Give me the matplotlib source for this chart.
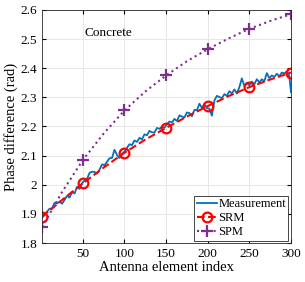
import numpy as np
import matplotlib.pyplot as plt

plt.rcParams['font.family'] = ['Liberation Serif', 'DejaVu Serif']

# measured phase difference, every 3rd element plus the last one
meas_x = list(range(1, 300, 3)) + [300]
meas_y = [1.887, 1.897, 1.908, 1.918, 1.919, 1.938, 1.936, 1.942, 1.935, 1.948,
          1.962, 1.956, 1.975, 1.970, 1.993, 1.986, 2.005, 2.015, 2.020, 2.041,
          2.045, 2.044, 2.038, 2.052, 2.070, 2.067, 2.079, 2.091, 2.092, 2.120,
          2.102, 2.092, 2.106, 2.114, 2.127, 2.139, 2.136, 2.152, 2.147, 2.161,
          2.156, 2.173, 2.170, 2.185, 2.180, 2.179, 2.195, 2.192, 2.199, 2.196,
          2.207, 2.217, 2.214, 2.226, 2.219, 2.238, 2.234, 2.231, 2.248, 2.246,
          2.235, 2.257, 2.256, 2.278, 2.264, 2.276, 2.263, 2.261, 2.237, 2.289,
          2.305, 2.301, 2.297, 2.311, 2.305, 2.321, 2.313, 2.327, 2.313, 2.335,
          2.365, 2.339, 2.350, 2.341, 2.354, 2.345, 2.362, 2.351, 2.362, 2.355,
          2.383, 2.366, 2.375, 2.370, 2.381, 2.372, 2.385, 2.382, 2.389, 2.374,
          2.318]

model_x = [1, 25, 50, 75, 100, 125, 150, 175, 200, 225, 250, 275, 300]
srm_y = [1.89, 1.948, 2.005, 2.059, 2.11, 2.155, 2.195, 2.234, 2.27, 2.304, 2.335, 2.361, 2.385]
spm_y = [1.855, 1.975, 2.085, 2.176, 2.255, 2.32, 2.375, 2.424, 2.465, 2.502, 2.535, 2.562, 2.585]

fig = plt.figure(figsize=(3.05, 2.82), dpi=100)
ax = fig.add_axes([0.138, 0.138, 0.816, 0.827])

ax.plot(meas_x, meas_y, color='#0072BD', lw=1.3, label='Measurement')
ax.plot(model_x, srm_y, color='red', ls='--', lw=1.5, marker='o', ms=7,
        mfc='none', mew=1.6, markevery=2, label='SRM')
ax.plot(model_x, spm_y, color='#7E2F8E', ls=':', lw=1.5, marker='+', ms=8,
        mew=1.6, markevery=2, label='SPM')

ax.set_xlim(1, 300)
ax.set_ylim(1.8, 2.6)
ax.set_xticks([50, 100, 150, 200, 250, 300])
yt = [1.8, 1.9, 2.0, 2.1, 2.2, 2.3, 2.4, 2.5, 2.6]
ax.set_yticks(yt)
ax.set_yticklabels(['%g' % v for v in yt])
ax.tick_params(direction='in', labelsize=9.5, length=3, top=True, right=True)
ax.grid(True, color='#e6e6e6', lw=0.7)
for s in ax.spines.values():
    s.set_color('#262626')
    s.set_linewidth(0.6)

ax.set_xlabel('Antenna element index', fontsize=10.5, labelpad=1)
ax.set_ylabel('Phase difference (rad)', fontsize=10.5, labelpad=2)
ax.text(52, 2.51, 'Concrete', fontsize=9.5)

leg = ax.legend(loc='lower right', fontsize=9, handlelength=1.6, handletextpad=0.1,
                borderpad=0.2, labelspacing=0.15, borderaxespad=0.2, fancybox=False,
                framealpha=1)
leg.get_frame().set_edgecolor('#262626')
leg.get_frame().set_linewidth(0.6)

fig.savefig('out.png', dpi=100)
